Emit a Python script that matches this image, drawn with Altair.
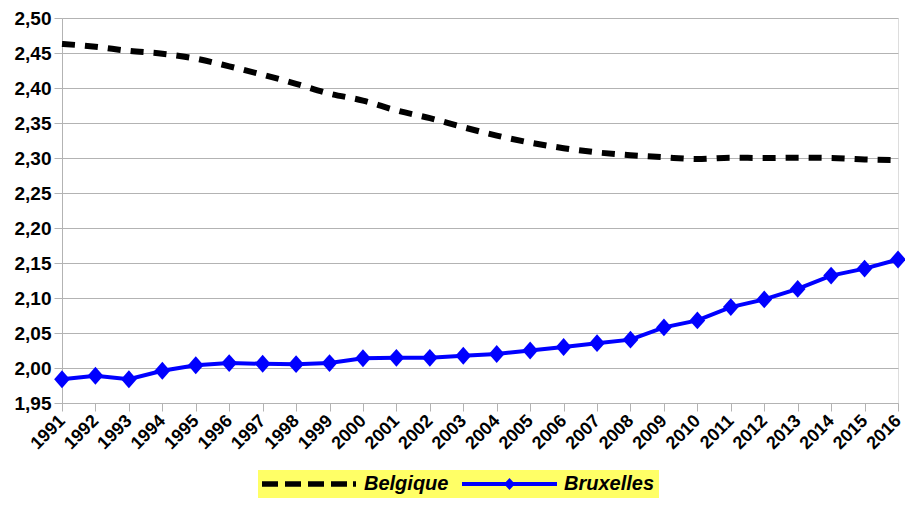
import altair as alt
import pandas as pd

years = [str(y) for y in range(1991, 2017)]
belgique = [2.463, 2.459, 2.453, 2.449, 2.442, 2.431, 2.419, 2.406, 2.392, 2.382,
            2.368, 2.357, 2.344, 2.332, 2.322, 2.314, 2.308, 2.304, 2.301, 2.2985,
            2.3005, 2.300, 2.3005, 2.300, 2.298, 2.297]
bruxelles = [1.984, 1.989, 1.984, 1.996, 2.004, 2.007, 2.006, 2.0055, 2.007, 2.014,
             2.0145, 2.0145, 2.0175, 2.020, 2.025, 2.030, 2.0355, 2.0405, 2.058, 2.068,
             2.087, 2.098, 2.113, 2.132, 2.142, 2.155]
series_names = ["Belgique", "Bruxelles"]
y_ticks = [1.95, 2.00, 2.05, 2.10, 2.15, 2.20, 2.25, 2.30, 2.35, 2.40, 2.45, 2.50]

df_b = pd.DataFrame({"year": years, "value": belgique, "series": "Belgique"})
df_x = pd.DataFrame({"year": years, "value": bruxelles, "series": "Bruxelles"})
df = pd.concat([df_b, df_x], ignore_index=True)

FONT = "Liberation Sans"
GRID = "#b3b3b3"

x_enc = alt.X("year:O", sort=years,
              scale=alt.Scale(type="point", padding=0),
              axis=alt.Axis(title=None, labelAngle=-45, labelAlign="right", labelBaseline="middle",
                            labelFont=FONT, labelFontSize=18,
                            labelFontWeight="bold", labelColor="black", domainColor=GRID,
                            tickColor=GRID, tickSize=8, labelPadding=7, grid=False))
y_enc = alt.Y("value:Q",
              scale=alt.Scale(domain=[1.95, 2.50], nice=False, zero=False),
              axis=alt.Axis(title=None, values=y_ticks, labelFont=FONT, labelFontSize=19,
                            labelFontWeight="bold", labelColor="black", domainColor=GRID,
                            tickColor=GRID, tickSize=8, labelPadding=3, gridColor=GRID,
                            labelExpr="replace(format(datum.value, '.2f'), '.', ',')"))

belg = alt.Chart(df_b).mark_line(color="black", strokeWidth=6, strokeDash=[13, 10],
                                 interpolate="monotone").encode(x=x_enc, y=y_enc)
brux_line = alt.Chart(df_x).mark_line(color="#0000ff", strokeWidth=4).encode(x=x_enc, y=y_enc)
brux_pts = alt.Chart(df_x).mark_point(shape="M-0.88,0L0,-1L0.88,0L0,1Z", filled=True,
                                      size=320, color="#0000ff", opacity=1).encode(x=x_enc, y=y_enc)

# legend symbols (unit = 10 px, symbol drawn from x=-1 to 8.5 units)
dash_path = ("M-1,-0.27L0.6,-0.27L0.6,0.27L-1,0.27Z "
             "M1.3,-0.27L2.9,-0.27L2.9,0.27L1.3,0.27Z "
             "M3.6,-0.27L5.2,-0.27L5.2,0.27L3.6,0.27Z "
             "M5.9,-0.27L7.5,-0.27L7.5,0.27L5.9,0.27Z "
             "M8.1,-0.27L8.4,-0.27L8.4,0.27L8.1,0.27Z")
diam_path = ("M-1,-0.2L3.383,-0.2L3.75,-0.6L4.117,-0.2L8.5,-0.2L8.5,0.2"
             "L4.117,0.2L3.75,0.6L3.383,0.2L-1,0.2Z")

leg = alt.Legend(title=None, orient="none", legendX=196, legendY=452, direction="horizontal",
                 fillColor="#ffff66", padding=4, symbolSize=400, symbolStrokeWidth=0,
                 labelFont=FONT, labelFontSize=20, labelFontWeight="bold",
                 labelFontStyle="italic", labelColor="black", labelOffset=82,
                 columnPadding=13, symbolOpacity=1)

legend_layer = alt.Chart(df).transform_filter("false").mark_point(filled=True, opacity=1).encode(
    color=alt.Color("series:N", scale=alt.Scale(domain=series_names, range=["black", "#0000ff"]),
                    legend=leg),
    shape=alt.Shape("series:N", scale=alt.Scale(domain=series_names, range=[dash_path, diam_path]),
                    legend=leg),
)

chart = alt.layer(belg, brux_line, brux_pts, legend_layer).properties(
    width=836, height=385,
    autosize=alt.AutoSizeParams(type="none"),
    padding={"left": 54, "top": 10, "right": 7, "bottom": 96},
).configure_view(stroke="#cccccc", strokeWidth=2).configure(background="white")

chart.save("out.html", embed_options={"renderer": "svg", "actions": False})
